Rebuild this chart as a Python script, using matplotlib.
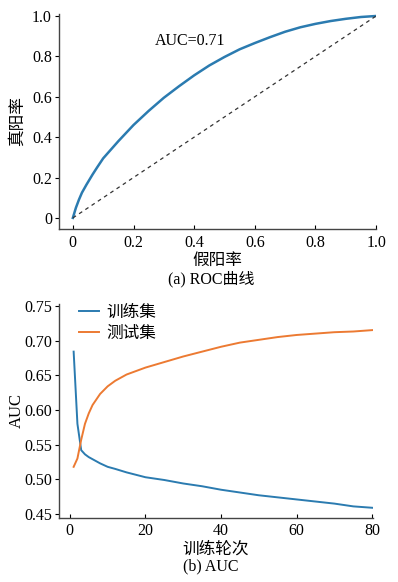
import numpy as np
import matplotlib
matplotlib.use('Agg')
import matplotlib.pyplot as plt

plt.rcParams['font.family'] = ['Liberation Serif', 'Noto Sans CJK SC']
plt.rcParams['font.size'] = 11

# ROC curve
fpr = [0.0, 0.01, 0.02, 0.03, 0.045, 0.065, 0.08, 0.1, 0.15, 0.2, 0.25, 0.3, 0.35,
       0.4, 0.45, 0.5, 0.55, 0.6, 0.65, 0.7, 0.75, 0.8, 0.85, 0.9, 0.95, 1.0]
tpr = [0.0, 0.05, 0.09, 0.125, 0.165, 0.215, 0.25, 0.295, 0.38, 0.46, 0.53, 0.595, 0.652,
       0.706, 0.755, 0.797, 0.835, 0.866, 0.895, 0.922, 0.944, 0.961, 0.975, 0.986, 0.995, 1.0]
auc_text = 'AUC=0.71'

# AUC per training epoch
epochs = [1, 2, 3, 4, 5, 6, 8, 10, 12, 15, 20, 25, 30, 35, 40, 45, 50, 55, 60, 65, 70, 75, 80]
train_auc = [0.684, 0.58, 0.542, 0.536, 0.532, 0.529, 0.523, 0.518, 0.515, 0.51, 0.503, 0.499,
             0.494, 0.49, 0.485, 0.481, 0.477, 0.474, 0.471, 0.468, 0.465, 0.461, 0.459]
test_auc = [0.518, 0.53, 0.557, 0.58, 0.595, 0.607, 0.623, 0.634, 0.642, 0.651, 0.661, 0.669,
            0.677, 0.684, 0.691, 0.697, 0.701, 0.705, 0.708, 0.71, 0.712, 0.713, 0.715]

blue = '#2b7bb0'
orange = '#ec7a32'

fig = plt.figure(figsize=(3.98, 5.82), dpi=100)

# (a) ROC
ax1 = fig.add_axes([0.148, 0.6065, 0.797, 0.3695])
ax1.plot(fpr, tpr, color=blue, lw=1.8)
ax1.plot([0, 1], [0, 1], color='#333333', lw=0.9, ls=(0, (3, 3)))
ax1.text(0.386, 0.875, auc_text, ha='center', va='center', fontsize=11.5)
ax1.set_xlim(-0.046, 1.0)
ax1.set_ylim(-0.055, 1.01)
ax1.set_xticks([0, 0.2, 0.4, 0.6, 0.8, 1.0])
ax1.set_xticklabels(['0', '0.2', '0.4', '0.6', '0.8', '1.0'])
ax1.set_yticks([0, 0.2, 0.4, 0.6, 0.8, 1.0])
ax1.set_yticklabels(['0', '0.2', '0.4', '0.6', '0.8', '1.0'])
ax1.set_xlabel('假阳率', labelpad=2, fontsize=12)
ax1.set_ylabel('真阳率', fontsize=12)
ax1.yaxis.set_label_coords(-0.105, 0.5)
fig.text(0.53, 0.521, '(a) ROC曲线', ha='center', va='center', fontsize=11.5)

# (b) AUC
ax2 = fig.add_axes([0.148, 0.1105, 0.789, 0.367])
ax2.plot(epochs, train_auc, color=blue, lw=1.4, label='训练集')
ax2.plot(epochs, test_auc, color=orange, lw=1.4, label='测试集')
ax2.set_xlim(-2.9, 80.2)
ax2.set_ylim(0.4447, 0.7525)
ax2.set_xticks([0, 20, 40, 60, 80])
ax2.set_yticks([0.45, 0.5, 0.55, 0.6, 0.65, 0.7, 0.75])
ax2.set_yticklabels(['0.45', '0.50', '0.55', '0.60', '0.65', '0.70', '0.75'])
ax2.set_xlabel('训练轮次', labelpad=2, fontsize=12)
ax2.set_ylabel('AUC', fontsize=12)
ax2.yaxis.set_label_coords(-0.108, 0.5)
ax2.legend(loc='upper left', frameon=False, handlelength=1.2, handletextpad=0.4,
           labelspacing=0.3, borderaxespad=0, borderpad=0.2,
           bbox_to_anchor=(0.054, 1.01), fontsize=12)
fig.text(0.53, 0.027, '(b) AUC', ha='center', va='center', fontsize=11.5)

for ax in (ax1, ax2):
    for s in ('top', 'right'):
        ax.spines[s].set_visible(False)
    for s in ('left', 'bottom'):
        ax.spines[s].set_linewidth(1.0)
        ax.spines[s].set_color('#444444')
    ax.tick_params(axis='x', direction='in', length=3, pad=4, labelsize=11.5)
    ax.tick_params(axis='y', direction='out', length=3, pad=2, labelsize=11.5)

plt.savefig('out.png', dpi=100)
